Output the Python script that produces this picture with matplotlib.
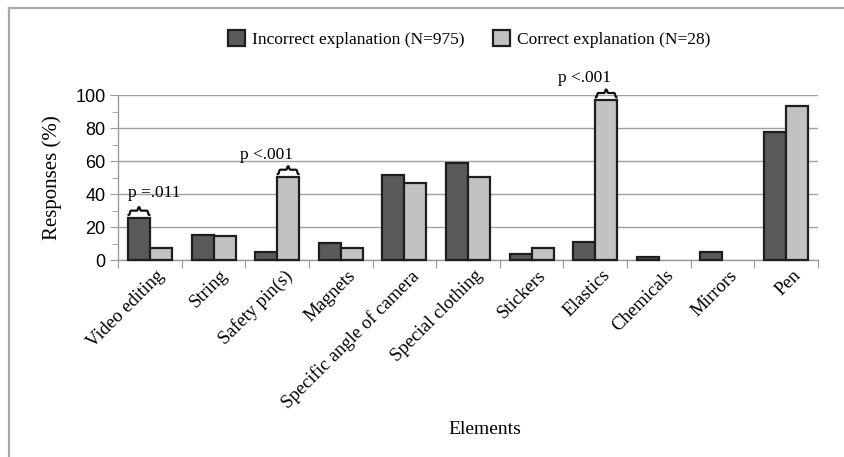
import matplotlib
matplotlib.use("Agg")
import matplotlib.pyplot as plt
import numpy as np
from matplotlib.lines import Line2D
from matplotlib.patches import Patch
from matplotlib.transforms import ScaledTranslation

elements = ["Video editing", "String", "Safety pin(s)", "Magnets",
            "Specific angle of camera", "Special clothing", "Stickers",
            "Elastics", "Chemicals", "Mirrors", "Pen"]
incorrect = [25.5, 15.4, 4.9, 10.3, 51.3, 58.8, 3.7, 11.2, 2.0, 4.7, 77.9]
correct = [7.3, 14.6, 50.3, 7.5, 46.7, 50.3, 7.5, 96.8, 0.0, 0.0, 93.3]

# significance notes: (category index, which bar, label)
notes = [(0, "incorrect", "p =.011"),
         (2, "correct", "p <.001"),
         (7, "correct", "p <.001")]

SERIF = "Liberation Serif"
SANS = "Liberation Sans"
DARK = "#5a5a5a"
LIGHT = "#c2c2c2"
EDGE = "#1e1e1e"


def brace(ax, x0, x1, y0, h):
    # curly brace pointing up, spanning x0..x1, base at y0
    xm = (x0 + x1) / 2.0
    t = np.linspace(0, 1, 60)
    half = (xm - x0)
    xs_l = x0 + half * t
    s = 1 / (1 + np.exp(-(t - 0.12) * 40))
    tip = 1 / (1 + np.exp(-(t - 0.9) * 40))
    ys_l = y0 + h * 0.55 * s + h * 0.45 * tip
    xs = np.concatenate([xs_l, (2 * xm - xs_l)[::-1]])
    ys = np.concatenate([ys_l, ys_l[::-1]])
    ax.plot(xs, ys, color="#111111", lw=1.6, clip_on=False, zorder=5)


fig = plt.figure(figsize=(8.44, 4.57), dpi=100)
ax = fig.add_axes([0.140, 0.431, 0.829, 0.361])

x = np.arange(len(elements))
w = 0.345
for vals, off, col in [(incorrect, -w / 2, DARK), (correct, w / 2, LIGHT)]:
    vals = np.array(vals)
    shown = vals > 0
    ax.bar(x[shown] + off, vals[shown], w, color=col, edgecolor=EDGE,
           linewidth=1.6, zorder=3, clip_on=False)

ax.set_xlim(-0.5, len(elements) - 0.5)
ax.set_ylim(0, 100)
ax.set_yticks([0, 20, 40, 60, 80, 100])
ax.set_yticks(np.arange(10, 100, 20), minor=True)
ax.yaxis.grid(True, color="#a0a0a0", lw=1.0, zorder=0)
ax.set_axisbelow(True)
for sp in ["top", "right"]:
    ax.spines[sp].set_visible(False)
for sp in ["left", "bottom"]:
    ax.spines[sp].set_color("#9a9a9a")
    ax.spines[sp].set_linewidth(1.0)

ax.tick_params(axis="y", which="major", length=6, color="#9a9a9a",
               labelsize=13, pad=3)
ax.tick_params(axis="y", which="minor", length=4, color="#9a9a9a")
for lab in ax.get_yticklabels():
    lab.set_fontfamily(SANS)

# category ticks sit between the groups
ax.set_xticks(np.arange(-0.5, len(elements), 1.0))
ax.set_xticklabels([])
ax.tick_params(axis="x", which="major", length=6, color="#9a9a9a")
ax.set_xticks(x, minor=True)
ax.set_xticklabels(elements, minor=True, rotation=45, ha="right",
                   rotation_mode="anchor", fontfamily=SERIF, fontsize=13.5)
ax.tick_params(axis="x", which="minor", length=0, pad=5)
shift = ScaledTranslation(6 / 100, 0, fig.dpi_scale_trans)
for lab in ax.get_xticklabels(minor=True):
    lab.set_transform(lab.get_transform() + shift)

ax.set_ylabel("Responses (%)", fontfamily=SERIF, fontsize=15, labelpad=10)
fig.text(0.575, 0.06, "Elements", fontfamily=SERIF, fontsize=14,
         ha="center", va="center")

for i, which, label in notes:
    if which == "incorrect":
        x0, top = i - w, incorrect[i]
    else:
        x0, top = i, correct[i]
    x1 = x0 + w
    brace(ax, x0 + 0.01, x1 - 0.01, top + 1.8, 4.8)
    if which == "incorrect":
        ax.text(x0, top + 10.5, label, ha="left", va="bottom",
                fontfamily=SERIF, fontsize=12.5, clip_on=False)
    else:
        ax.text(x1 - 0.1, top + 8.5, label, ha="right", va="bottom",
                fontfamily=SERIF, fontsize=12.5, clip_on=False)

handles = [Patch(facecolor=DARK, edgecolor=EDGE, linewidth=1.6),
           Patch(facecolor=LIGHT, edgecolor=EDGE, linewidth=1.6)]
fig.legend(handles, ["Incorrect explanation (N=975)",
                     "Correct explanation (N=28)"],
           loc="center", bbox_to_anchor=(0.556, 0.914), ncol=2,
           frameon=False, prop={"family": SERIF, "size": 12.5},
           handlelength=1.0, handleheight=1.0, handletextpad=0.4,
           columnspacing=1.6)

# outer frame: top and left edges only
fig.add_artist(Line2D([9 / 844, 9 / 844], [0, 1 - 8 / 457],
                      color="#a8a8a8", lw=1.6, transform=fig.transFigure))
fig.add_artist(Line2D([9 / 844, 1], [1 - 8 / 457, 1 - 8 / 457],
                      color="#a8a8a8", lw=1.6, transform=fig.transFigure))

fig.savefig("out.png", dpi=100)
